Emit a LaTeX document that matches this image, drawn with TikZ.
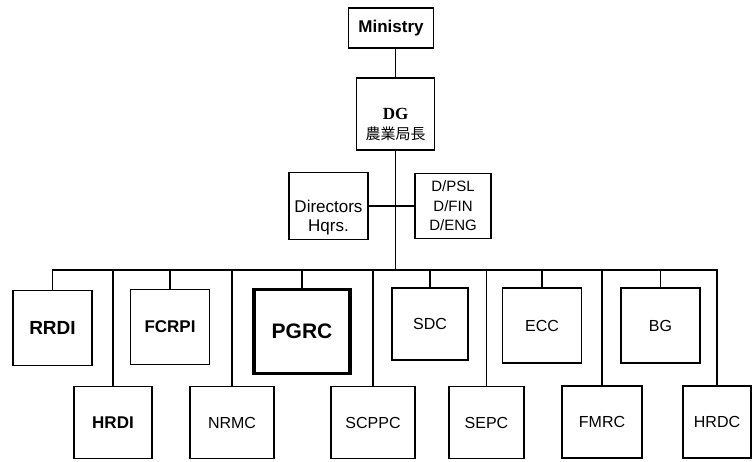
\documentclass[tikz,border=0pt]{standalone}
\usepackage{fontspec}
\setmainfont{Liberation Sans}
\newfontfamily\cjkfont{Noto Sans CJK JP}
\newfontfamily\dgfont{Liberation Serif}
\usetikzlibrary{positioning}
\newcommand{\lowered}[2]{\raisebox{-#1}[0pt][0pt]{\begin{tabular}{@{}c@{}}#2\end{tabular}}}
\begin{document}
\begin{tikzpicture}[
  x=1pt,y=-1pt,
  every node/.style={font=\fontsize{16}{19}\selectfont},
  unit/.style={draw,line width=1.4pt,align=center,inner sep=2pt},
  hand/.style={unit,font=\fontsize{17}{20}\selectfont\bfseries},
  upper/.style={minimum width=79,minimum height=75},
  lower/.style={unit,minimum width=80,minimum height=72},
  link/.style={line width=1.4pt}
]
  \useasboundingbox (0,0) rectangle (753,462);
  \node[hand,minimum width=85,minimum height=40] (ministry) at (391,28) {Ministry};
  \node[unit,minimum width=78,minimum height=72] (dg) at (395.5,114)
    {\lowered{16pt}{{\dgfont\bfseries\fontsize{17}{20}\selectfont DG}\\[1pt]{\cjkfont\fontsize{15}{18}\selectfont 農業局長}}};
  \node[unit,minimum width=79,minimum height=67] (dirs) at (328.5,206)
    {\lowered{17pt}{\fontsize{17}{17}\selectfont Directors\\\fontsize{17}{17}\selectfont Hqrs.}};
  \node[unit,minimum width=76,minimum height=65,font=\fontsize{15}{19.5}\selectfont] (dpsl) at (453,206)
    {D/PSL\\D/FIN\\D/ENG};
  \node[hand,upper,font=\fontsize{19}{22}\selectfont\bfseries] (rrdi) at (52.5,328) {RRDI};
  \node[hand,upper] (fcrpi) at (170,327) {FCRPI};
  \node[hand,line width=3.8pt,minimum width=96,minimum height=84,
    font=\fontsize{21}{24}\selectfont\bfseries] (pgrc) at (302,331.5) {PGRC};
  \node[unit,upper,minimum width=76,minimum height=72] (sdc) at (430,324) {SDC};
  \node[unit,upper] (ecc) at (542,325.5) {ECC};
  \node[unit,upper] (bg) at (660.5,325.5) {BG};
  \node[hand,lower,minimum width=78] (hrdi) at (113,422.5) {HRDI};
  \node[lower,minimum width=84] (nrmc) at (232,422.5) {NRMC};
  \node[lower,minimum width=84] (scppc) at (373,422.5) {SCPPC};
  \node[lower,minimum width=75] (sepc) at (486.5,422.5) {SEPC};
  \node[lower] (fmrc) at (602,422) {FMRC};
  \node[lower,minimum width=68] (hrdc) at (717,422) {HRDC};
  \coordinate (bus) at (395.5,270);
  \draw[link] (dg.north) -- (dg.north |- ministry.south);
  \draw[link] (dg.south) -- (bus);
  \draw[link] (dirs.east) -- (dpsl.west);
  \draw[link] (rrdi.north) |- (bus) -| (hrdc.north);
  \foreach \u in {fcrpi,pgrc,sdc,ecc,bg,hrdi,nrmc,scppc,sepc,fmrc}
    \draw[link] (\u.north |- bus) -- (\u.north);
\end{tikzpicture}
\end{document}
